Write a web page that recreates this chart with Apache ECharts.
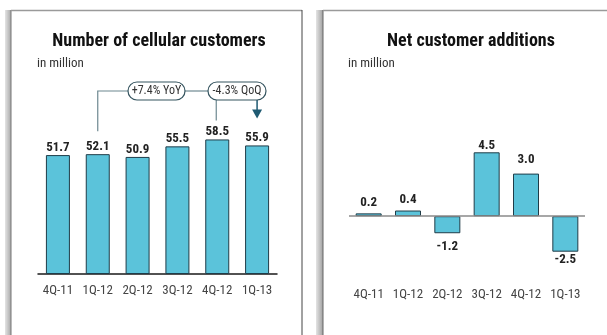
<!DOCTYPE html>
<html>
<head>
<meta charset="utf-8">
<script src="https://cdn.jsdelivr.net/npm/echarts@6/dist/echarts.min.js"></script>
<style>
  html, body { margin: 0; padding: 0; background: #ffffff; }
  #chart { width: 607px; height: 335px; }
</style>
</head>
<body>
<div id="chart"></div>
<script>
// Quarterly figures, millions
const categories = ['4Q-11', '1Q-12', '2Q-12', '3Q-12', '4Q-12', '1Q-13'];
const customers = [51.7, 52.1, 50.9, 55.5, 58.5, 55.9];
const netAdditions = [0.2, 0.4, -1.2, 4.5, 3.0, -2.5];
const yoyText = '+7.4% YoY';
const qoqText = '-4.3% QoQ';

const FONT = "'Liberation Sans Narrow', 'Arial Narrow', 'Roboto Condensed', 'Liberation Sans', sans-serif";
const BAR_FILL = '#5bc3da';
const BAR_EDGE = '#1f3c48';

// per-bar gap between value label and bar end on the net-additions panel
const netLabelGap = [4, 4, 7, 0, 7, 2];

const chart = echarts.init(document.getElementById('chart'), null, { renderer: 'canvas' });

const panelFrame = [
  // left panel: shadow strip, left edge, top edge, right edge
  { type: 'rect', shape: { x: 5, y: 10, width: 6, height: 330 },
    style: { fill: new echarts.graphic.LinearGradient(0, 0, 1, 0, [
      { offset: 0, color: '#e4e4e4' }, { offset: 1, color: '#a8a8a8' }]) }, silent: true },
  { type: 'line', shape: { x1: 11, y1: 10, x2: 11, y2: 340 }, style: { stroke: '#777', lineWidth: 1 } },
  { type: 'line', shape: { x1: 11, y1: 10.5, x2: 302, y2: 10.5 }, style: { stroke: '#9a9a9a', lineWidth: 1.5 } },
  { type: 'line', shape: { x1: 302, y1: 10, x2: 302, y2: 340 }, style: { stroke: '#444', lineWidth: 1 } },
  // right panel
  { type: 'rect', shape: { x: 316, y: 10, width: 7, height: 330 },
    style: { fill: new echarts.graphic.LinearGradient(0, 0, 1, 0, [
      { offset: 0, color: '#e4e4e4' }, { offset: 1, color: '#a0a0a0' }]) }, silent: true },
  { type: 'line', shape: { x1: 323, y1: 10, x2: 323, y2: 340 }, style: { stroke: '#666', lineWidth: 1 } },
  { type: 'line', shape: { x1: 323, y1: 10.5, x2: 607, y2: 10.5 }, style: { stroke: '#9a9a9a', lineWidth: 1.5 } },
  // unit captions
  { type: 'text', x: 37, y: 64, style: { text: 'in million', font: '13px ' + FONT, fill: '#333', verticalAlign: 'middle' } },
  { type: 'text', x: 348, y: 64, style: { text: 'in million', font: '13px ' + FONT, fill: '#333', verticalAlign: 'middle' } }
];

const option = {
  backgroundColor: '#ffffff',
  animation: false,
  title: [
    { text: 'Number of cellular customers', left: 154, top: 27, textAlign: 'center',
      textStyle: { fontFamily: FONT, fontSize: 18, fontWeight: 'bold', color: '#111' } },
    { text: 'Net customer additions', left: 466, top: 27, textAlign: 'center',
      textStyle: { fontFamily: FONT, fontSize: 18, fontWeight: 'bold', color: '#111' } }
  ],
  grid: [
    { left: 38, right: 330, top: 113, bottom: 61 },
    { left: 349, right: 22, top: 131, bottom: 62 }
  ],
  xAxis: [
    { type: 'category', gridIndex: 0, data: categories,
      axisLine: { lineStyle: { color: '#1a1a1a', width: 1.5 } },
      axisTick: { show: false },
      axisLabel: { interval: 0, fontFamily: FONT, fontSize: 13, color: '#444', margin: 10 } },
    { type: 'category', gridIndex: 1, data: categories,
      axisLine: { show: false, onZero: false },
      axisTick: { show: false },
      axisLabel: { interval: 0, fontFamily: FONT, fontSize: 13, color: '#444', margin: 15 } }
  ],
  yAxis: [
    { type: 'value', gridIndex: 0, min: 0, max: 70, show: false, splitLine: { show: false } },
    { type: 'value', gridIndex: 1, min: -4, max: 6, show: false, splitLine: { show: false } }
  ],
  series: [
    {
      type: 'bar', xAxisIndex: 0, yAxisIndex: 0, barWidth: 24,
      data: customers,
      itemStyle: { color: BAR_FILL, borderColor: BAR_EDGE, borderWidth: 1 },
      label: { show: true, position: 'top', distance: 1, fontFamily: FONT, fontSize: 13,
        fontWeight: 'bold', color: '#222', formatter: p => p.value.toFixed(1) }
    },
    {
      type: 'bar', xAxisIndex: 1, yAxisIndex: 1, barWidth: 26,
      data: netAdditions.map((v, i) => ({
        value: v,
        label: { position: v >= 0 ? 'top' : 'bottom', distance: netLabelGap[i] }
      })),
      itemStyle: { color: BAR_FILL, borderColor: BAR_EDGE, borderWidth: 1 },
      label: { show: true, fontFamily: FONT, fontSize: 13, fontWeight: 'bold', color: '#222',
        formatter: p => p.value.toFixed(1) },
      markLine: {
        silent: true, symbol: 'none', label: { show: false },
        lineStyle: { color: '#8a8a8a', width: 1.5, type: 'solid' },
        data: [{ yAxis: 0 }]
      },
      z: 3
    }
  ],
  graphic: panelFrame
};

chart.setOption(option);

// Growth callouts above the customer bars, anchored to the bars through the axes
function px(i, v) {
  return chart.convertToPixel({ xAxisIndex: 0, yAxisIndex: 0 }, [i, v]);
}
const b2 = px(1, customers[1]);
const b5 = px(4, customers[4]);
const b6 = px(5, customers[5]);

const rowY = 91;
const boxH = 18;
const yoyBox = { x: 128, w: 57 };
const qoqBox = { x: 208, w: 58 };
const LINE = '#6d8890';
const EDGE = '#35545f';

const callouts = [
  { type: 'polyline', shape: { points: [[b2[0], b2[1] - 23], [b2[0], rowY], [yoyBox.x, rowY]] },
    style: { stroke: LINE, lineWidth: 1.2, fill: null } },
  { type: 'line', shape: { x1: yoyBox.x + yoyBox.w, y1: rowY, x2: qoqBox.x, y2: rowY },
    style: { stroke: LINE, lineWidth: 1.2 } },
  { type: 'line', shape: { x1: b5[0] - 1, y1: rowY + boxH / 2, x2: b5[0] - 1, y2: b5[1] - 19 },
    style: { stroke: LINE, lineWidth: 1.2 } },
  { type: 'line', shape: { x1: b6[0], y1: rowY + boxH / 2, x2: b6[0], y2: b6[1] - 33 },
    style: { stroke: '#1f5a72', lineWidth: 1.5 } },
  { type: 'polygon', shape: { points: [[b6[0] - 5, b6[1] - 36], [b6[0] + 5, b6[1] - 36], [b6[0], b6[1] - 27]] },
    style: { fill: '#1f5a72' } },
  { type: 'rect', shape: { x: yoyBox.x, y: rowY - boxH / 2, width: yoyBox.w, height: boxH, r: 9 },
    style: { fill: '#fff', stroke: EDGE, lineWidth: 1.2 } },
  { type: 'text', x: yoyBox.x + yoyBox.w / 2, y: rowY,
    style: { text: yoyText, font: '12px ' + FONT, fill: '#333', align: 'center', verticalAlign: 'middle' } },
  { type: 'rect', shape: { x: qoqBox.x, y: rowY - boxH / 2, width: qoqBox.w, height: boxH, r: 9 },
    style: { fill: '#fff', stroke: EDGE, lineWidth: 1.2 } },
  { type: 'text', x: qoqBox.x + qoqBox.w / 2, y: rowY,
    style: { text: qoqText, font: '12px ' + FONT, fill: '#333', align: 'center', verticalAlign: 'middle' } }
];

chart.setOption({ graphic: panelFrame.concat(callouts) });
</script>
</body>
</html>
